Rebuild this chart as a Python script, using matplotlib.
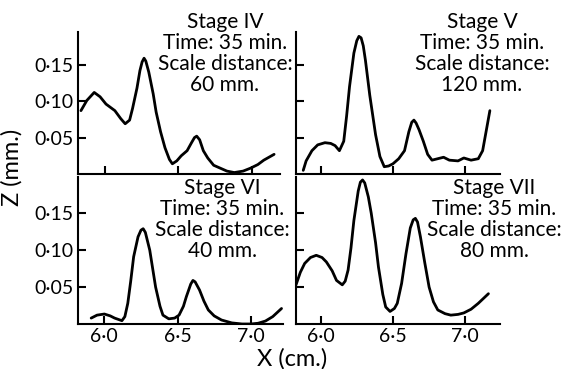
import matplotlib
matplotlib.use("Agg")
import matplotlib.pyplot as plt
from matplotlib.ticker import FixedLocator, FuncFormatter

plt.rcParams['font.family'] = ['Lato', 'DejaVu Sans']

# Stage IV
x_iv = [5.84, 5.88, 5.93, 5.97, 6.01, 6.07, 6.11, 6.14, 6.17, 6.19, 6.22, 6.24, 6.255, 6.268,
        6.28, 6.30, 6.33, 6.35, 6.38, 6.41, 6.44, 6.46, 6.49, 6.52, 6.56, 6.59, 6.61, 6.625,
        6.645, 6.67, 6.70, 6.74, 6.83, 6.88, 6.94, 6.99, 7.04, 7.08, 7.15]
z_iv = [0.087, 0.101, 0.112, 0.106, 0.096, 0.087, 0.076, 0.069, 0.074, 0.090, 0.118, 0.142,
        0.154, 0.159, 0.155, 0.140, 0.110, 0.085, 0.058, 0.036, 0.020, 0.014, 0.018, 0.025,
        0.032, 0.043, 0.050, 0.052, 0.047, 0.032, 0.022, 0.012, 0.004, 0.002, 0.004, 0.008,
        0.013, 0.019, 0.027]

# Stage V
x_v = [5.88, 5.90, 5.94, 5.98, 6.03, 6.07, 6.10, 6.13, 6.16, 6.18, 6.20, 6.23, 6.25, 6.265,
       6.28, 6.295, 6.31, 6.34, 6.38, 6.41, 6.44, 6.47, 6.50, 6.54, 6.58, 6.61, 6.63, 6.645,
       6.66, 6.68, 6.71, 6.74, 6.77, 6.81, 6.85, 6.89, 6.95, 6.99, 7.04, 7.09, 7.12, 7.14, 7.17]
z_v = [0.005, 0.018, 0.032, 0.040, 0.043, 0.042, 0.039, 0.032, 0.045, 0.080, 0.120, 0.166,
       0.183, 0.189, 0.187, 0.176, 0.156, 0.108, 0.054, 0.024, 0.010, 0.011, 0.014, 0.021,
       0.032, 0.058, 0.071, 0.074, 0.070, 0.061, 0.045, 0.027, 0.019, 0.021, 0.023, 0.019,
       0.018, 0.022, 0.019, 0.021, 0.032, 0.054, 0.087]

# Stage VI
x_vi = [5.91, 5.95, 6.00, 6.04, 6.07, 6.12, 6.14, 6.16, 6.18, 6.20, 6.23, 6.25, 6.265, 6.28,
        6.31, 6.33, 6.35, 6.38, 6.40, 6.44, 6.48, 6.51, 6.54, 6.56, 6.59, 6.605, 6.62, 6.65,
        6.68, 6.71, 6.75, 6.80, 6.87, 6.94, 7.00, 7.05, 7.10, 7.15, 7.21]
z_vi = [0.008, 0.012, 0.0135, 0.011, 0.008, 0.0045, 0.010, 0.028, 0.058, 0.091, 0.118,
        0.127, 0.129, 0.124, 0.100, 0.075, 0.050, 0.024, 0.012, 0.007, 0.008, 0.012, 0.024,
        0.037, 0.054, 0.059, 0.057, 0.046, 0.031, 0.019, 0.011, 0.0054, 0.0015, 0.0, 0.0,
        0.001, 0.004, 0.010, 0.021]

# Stage VII
x_vii = [5.83, 5.86, 5.89, 5.93, 5.97, 6.01, 6.04, 6.08, 6.11, 6.15, 6.17, 6.19, 6.21, 6.23,
         6.26, 6.275, 6.29, 6.305, 6.33, 6.35, 6.38, 6.40, 6.43, 6.45, 6.48, 6.51, 6.53, 6.56,
         6.59, 6.62, 6.64, 6.655, 6.67, 6.69, 6.72, 6.75, 6.78, 6.81, 6.86, 6.90, 6.95, 6.99,
         7.04, 7.09, 7.16]
z_vii = [0.053, 0.070, 0.082, 0.090, 0.093, 0.090, 0.084, 0.072, 0.059, 0.053, 0.058, 0.073,
         0.103, 0.140, 0.180, 0.192, 0.195, 0.191, 0.172, 0.150, 0.110, 0.077, 0.040, 0.023,
         0.017, 0.021, 0.028, 0.055, 0.095, 0.130, 0.141, 0.143, 0.138, 0.118, 0.083, 0.050,
         0.030, 0.019, 0.014, 0.012, 0.013, 0.015, 0.020, 0.028, 0.041]

panels = [
    (x_iv, z_iv, "Stage IV\nTime: 35 min.\nScale distance:\n60 mm."),
    (x_v, z_v, "Stage V\nTime: 35 min.\nScale distance:\n120 mm."),
    (x_vi, z_vi, "Stage VI\nTime: 35 min.\nScale distance:\n40 mm."),
    (x_vii, z_vii, "Stage VII\nTime: 35 min.\nScale distance:\n80 mm."),
]

x_ticks = [6.0, 6.5, 7.0]
z_ticks = [0.05, 0.10, 0.15]

W, H = 565, 369
fig = plt.figure(figsize=(W / 100, H / 100), dpi=100)

# axes boxes in pixels: left, top, right, bottom
boxes = [(78, 32, 280, 174), (296, 32, 500, 174),
         (78, 177, 283, 324), (296, 177, 500, 324)]
xlims = [(5.82, 7.19), (5.83, 7.24), (5.82, 7.22), (5.83, 7.24)]
# centre of the first text line, in pixels
text_pos = [(225, 23), (482, 23), (222, 189), (494, 189)]

dot = FuncFormatter(lambda v, p: "{:.2f}".format(v).replace(".", "\u00b7"))
dot1 = FuncFormatter(lambda v, p: "{:.1f}".format(v).replace(".", "\u00b7"))

for i, ((xs, zs, label), box) in enumerate(zip(panels, boxes)):
    l, t, r, b = box
    ax = fig.add_axes([l / W, 1 - b / H, (r - l) / W, (b - t) / H])
    ax.plot(xs, zs, color="black", lw=2.0, solid_joinstyle="round", solid_capstyle="round")
    ax.set_xlim(*xlims[i])
    ax.set_ylim(0, 0.195 if i < 2 else 0.199)
    for s in ["top", "right"]:
        ax.spines[s].set_visible(False)
    for s in ["left", "bottom"]:
        ax.spines[s].set_linewidth(1.5)
    ax.xaxis.set_major_locator(FixedLocator(x_ticks))
    ax.yaxis.set_major_locator(FixedLocator(z_ticks))
    ax.xaxis.set_major_formatter(dot1)
    ax.yaxis.set_major_formatter(dot)
    ax.tick_params(direction="in", length=6, width=1.5, labelsize=14, pad=3)
    if i < 2:
        ax.tick_params(labelbottom=False)
    if i % 2 == 1:
        ax.tick_params(labelleft=False)
    tx, ty = text_pos[i]
    fig.text(tx / W, 1 - (ty - 11) / H, label, ha="center", va="top", fontsize=15,
             linespacing=1.07)

fig.text(12 / W, 1 - 167 / H, "Z (mm.)", rotation=90, ha="center", va="center", fontsize=17)
fig.text(292 / W, 1 - 359 / H, "X (cm.)", ha="center", va="center", fontsize=17)

fig.savefig("out.png", dpi=100)
